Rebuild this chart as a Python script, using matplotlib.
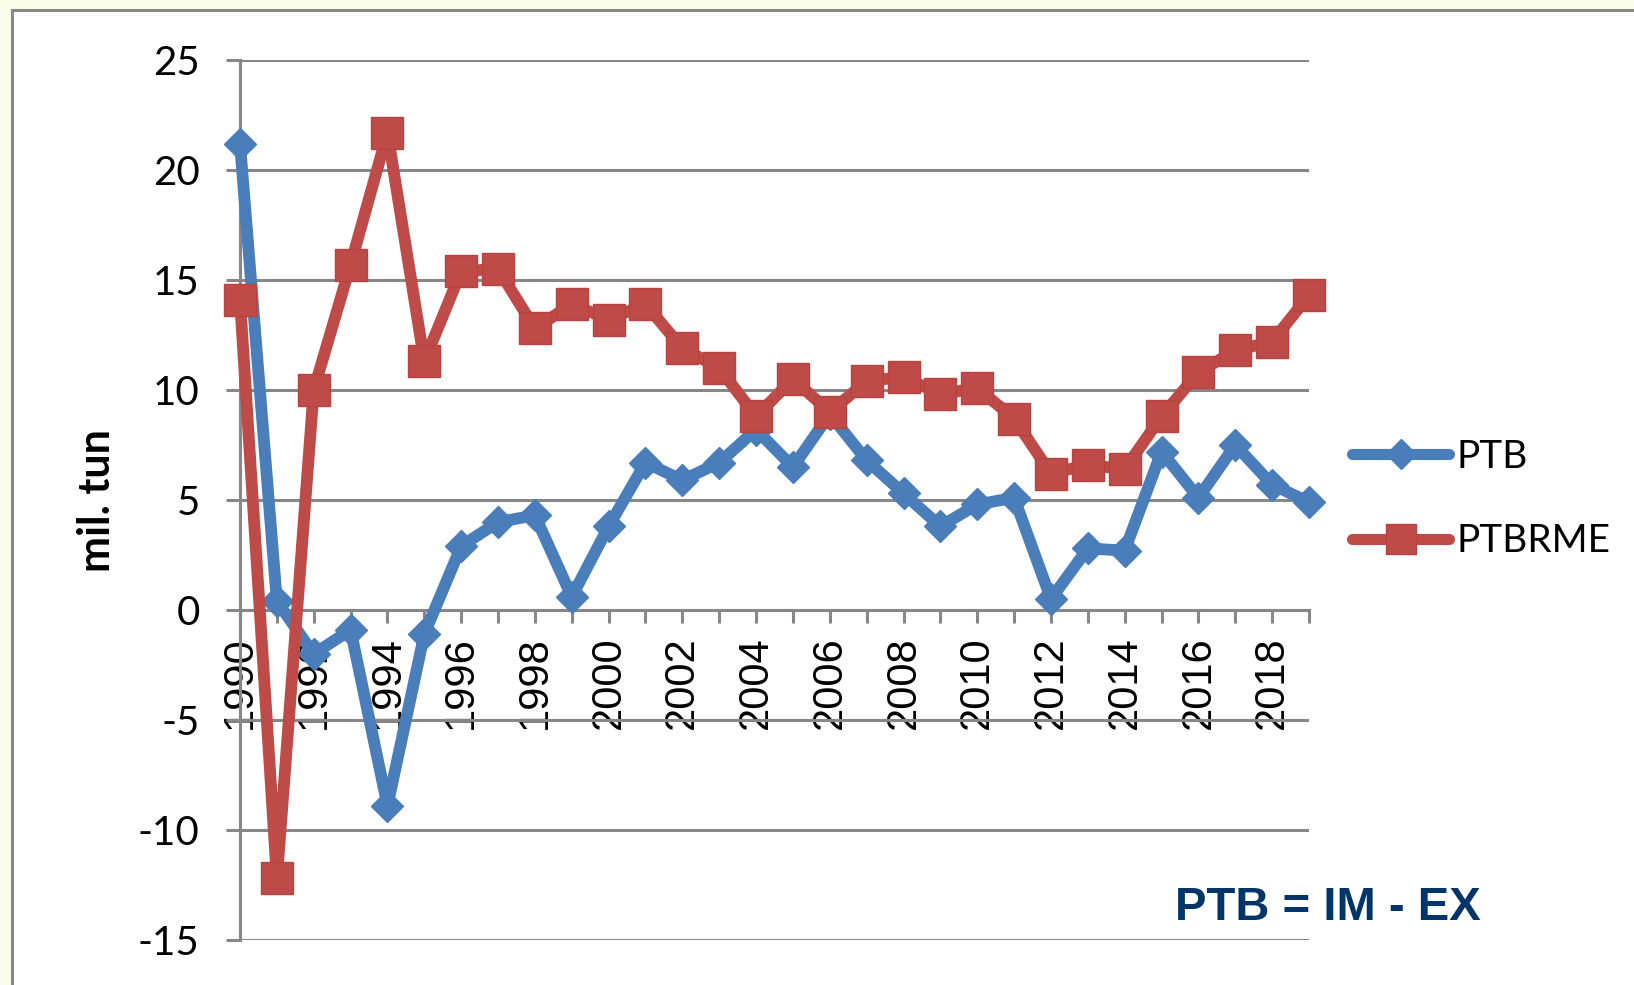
import matplotlib
matplotlib.use("Agg")
import matplotlib.pyplot as plt
from matplotlib.patches import Rectangle
from matplotlib.lines import Line2D

# data (mil. tun)
years = list(range(1990, 2020))
ptb = [21.2, 0.4, -2.0, -0.9, -8.9, -1.1, 2.9, 4.0, 4.3, 0.6,
       3.8, 6.7, 5.9, 6.7, 8.2, 6.5, 8.9, 6.8, 5.3, 3.8,
       4.8, 5.1, 0.5, 2.8, 2.7, 7.2, 5.1, 7.5, 5.7, 4.9]
ptbrme = [14.1, -12.2, 10.0, 15.7, 21.7, 11.3, 15.4, 15.5, 12.8, 13.9,
          13.2, 13.9, 11.9, 11.0, 8.8, 10.5, 9.0, 10.4, 10.6, 9.8,
          10.1, 8.7, 6.2, 6.6, 6.4, 8.8, 10.8, 11.8, 12.2, 14.3]
yticks = [-15, -10, -5, 0, 5, 10, 15, 20, 25]

blue = "#4A7EBB"
red = "#BE4B48"
grid_col = "#878787"

W, H = 1634, 985
fig = plt.figure(figsize=(W / 100, H / 100), dpi=100)
fig.patch.set_facecolor("#F9FCE9")

# white chart area with gray border (cut off at right/bottom)
frame = Rectangle((11.5 / W, -0.05), 1.1, 1 - 9.5 / H + 0.05, transform=fig.transFigure,
                  facecolor="white", edgecolor=grid_col, linewidth=2.2, zorder=-5)
fig.patches.append(frame)

ax = fig.add_axes([240 / W, 45 / H, (1309 - 240) / W, 880 / H])
ax.set_facecolor("none")

ax.plot(years, ptb, color=blue, lw=8.5, marker="D", ms=16.5, mec=blue, mew=1,
        solid_joinstyle="round", solid_capstyle="round", zorder=3, clip_on=False)
ax.plot(years, ptbrme, color=red, lw=8.5, marker="s", ms=22.5, mec="#B8423F", mew=1,
        solid_joinstyle="round", solid_capstyle="round", zorder=4, clip_on=False)

ax.set_xlim(1990, 2019)
ax.set_ylim(-15, 25)
ax.set_yticks(yticks)
ax.set_yticklabels([str(v) for v in yticks], fontfamily="Lato", fontsize=29)
ax.yaxis.grid(True, color=grid_col, lw=2.2)
ax.set_axisbelow(True)

for s in ["top", "right"]:
    ax.spines[s].set_visible(False)
ax.spines["left"].set_color(grid_col)
ax.spines["left"].set_linewidth(2.2)
ax.tick_params(axis="y", length=10, width=2.2, color=grid_col, pad=19)

# x axis crosses at 0, ticks every year, labels every 2 years
ax.spines["bottom"].set_position(("data", 0))
ax.spines["bottom"].set_color(grid_col)
ax.spines["bottom"].set_linewidth(2.2)
ax.set_xticks(years)
ax.set_xticklabels([str(y) if y % 2 == 0 else "" for y in years],
                   rotation=90, fontfamily="Liberation Sans", fontsize=30)
ax.tick_params(axis="x", length=9, width=2.2, color=grid_col, pad=10)

ax.set_ylabel("mil. tun", fontfamily="Lato", fontweight="bold", fontsize=31, va="center")
ax.yaxis.set_label_coords((97 - 240) / (1309 - 240), 0.499)

handles = [
    Line2D([], [], color=blue, lw=8, marker="D", ms=15, mec=blue, solid_capstyle="round"),
    Line2D([], [], color=red, lw=8, marker="s", ms=21, mec="#B8423F", solid_capstyle="round"),
]
fig.legend(handles, ["PTB", "PTBRME"], loc="center left",
           bbox_to_anchor=(1352 / W, 1 - 499 / H), frameon=False,
           prop={"family": "Lato", "size": 28}, handlelength=2.5,
           handletextpad=0.2, labelspacing=1.25, borderpad=0, borderaxespad=0)

fig.text(1328 / W, 1 - 908 / H, "PTB = IM - EX", ha="center", va="center",
         fontfamily="Liberation Sans", fontweight="bold", fontsize=34, color="#00356A")

fig.savefig("out.png", dpi=100, facecolor=fig.get_facecolor())
